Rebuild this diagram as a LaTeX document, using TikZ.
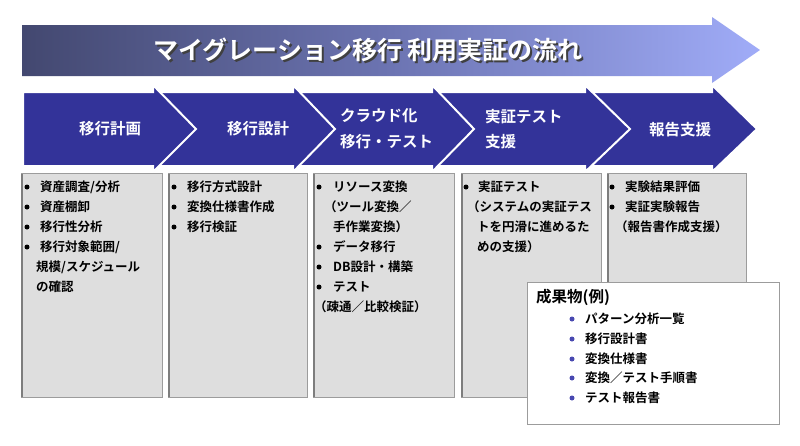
\documentclass[tikz,border=0pt]{standalone}
\usepackage{fontspec}
\setmainfont{Noto Sans CJK JP}[BoldFont={Noto Sans CJK JP Bold}]
\definecolor{chevblue}{HTML}{333399}
\definecolor{boxgray}{HTML}{DEDEDE}
\definecolor{boxedge}{HTML}{9C9C9C}
\definecolor{bulblue}{HTML}{4848B0}
\definecolor{tl}{HTML}{434870}
\definecolor{tm}{HTML}{6C74B2}
\definecolor{tr}{HTML}{A0ACF8}
\begin{document}
\begin{tikzpicture}[x=1pt,y=-1pt,
  chev/.style={fill=chevblue, draw=white, line width=2pt, line join=miter},
  gbox/.style={fill=boxgray, draw=boxedge, line width=1pt},
  wbox/.style={fill=white, draw=boxedge, line width=0.8pt},
  item/.style={anchor=west, font=\bfseries\fontsize{12.5}{14}\selectfont, inner sep=0pt},
  bul/.style={circle, fill=black, inner sep=0pt, minimum size=5pt},
  pbul/.style={circle, fill=bulblue, inner sep=0pt, minimum size=5pt},
  chevtxt/.style={text=white, font=\bfseries\fontsize{15.5}{17}\selectfont, inner sep=0pt},
  ttltxt/.style={font=\bfseries\fontsize{25}{28}\selectfont, inner sep=0pt}
]
\useasboundingbox (0,0) rectangle (800,445);
\fill[white] (0,0) rectangle (800,445);

% top arrow
\path[left color=tl, right color=tr, middle color=tm]
  (22,25) -- (712,25) -- (712,17) -- (760,50) -- (712,83) -- (712,76) -- (22,76) -- cycle;
\node[ttltxt, text=black!75] (ttlshadow) at (370,52) {マイグレーション移行 利用実証の流れ};
\node[ttltxt, text=white] (ttl) at (368,50) {マイグレーション移行 利用実証の流れ};

% chevrons (right to left)
\draw[chev] (582,92) -- (712,92) -- (712,85) -- (757,129) -- (712,172) -- (712,166) -- (582,166) -- cycle;
\draw[chev] (429,92) -- (585,92) -- (585,85) -- (630,129) -- (585,172) -- (585,166) -- (429,166) -- cycle;
\draw[chev] (290,92) -- (432,92) -- (432,85) -- (474,129) -- (432,172) -- (432,166) -- (290,166) -- cycle;
\draw[chev] (150,92) -- (293,92) -- (293,85) -- (335,129) -- (293,172) -- (293,166) -- (150,166) -- cycle;
\draw[chev] (23,92) -- (153,92) -- (153,85) -- (196,129) -- (153,172) -- (153,166) -- (23,166) -- cycle;

\node[chevtxt] (c1) at (110,129) {移行計画};
\node[chevtxt] (c2) at (258,129) {移行設計};
\node[chevtxt, anchor=west] (c3a) at (340,116) {クラウド化};
\node[chevtxt, anchor=west] (c3b) at (340,142) {移行・テスト};
\node[chevtxt, anchor=west] (c4a) at (485,117) {実証テスト};
\node[chevtxt, anchor=west] (c4b) at (485,142) {支援};
\node[chevtxt] (c5) at (680,130) {報告支援};

% gray boxes
\draw[gbox] (21,173) rectangle (162,397);
\draw[gbox] (168,173) rectangle (307,397);
\draw[gbox] (313,173) rectangle (454,397);
\draw[gbox] (461,173) rectangle (601,397);
\draw[gbox] (607,173) rectangle (746,397);
\foreach \xl in {21,168,313,461,607} {\draw[boxedge!80!black, line width=1.6pt] (\xl+0.8,173.5) -- (\xl+0.8,396.5);}

% box 1
\node[bul] (b1a) at (27,187) {};
\node[item] (t1a) at (40,187) {資産調査/分析};
\node[bul] (b1b) at (27,207) {};
\node[item] (t1b) at (40,207) {資産棚卸};
\node[bul] (b1c) at (27,227) {};
\node[item] (t1c) at (40,227) {移行性分析};
\node[bul] (b1d) at (27,247) {};
\node[item] (t1d) at (40,247) {移行対象範囲/};
\node[item] (t1e) at (36,267) {規模/スケジュール};
\node[item] (t1f) at (36,287) {の確認};

% box 2
\node[bul] (b2a) at (174,187) {};
\node[item] (t2a) at (187,187) {移行方式設計};
\node[bul] (b2b) at (174,207) {};
\node[item] (t2b) at (187,207) {変換仕様書作成};
\node[bul] (b2c) at (174,227) {};
\node[item] (t2c) at (187,227) {移行検証};

% box 3
\node[bul] (b3a) at (319,187) {};
\node[item] (t3a) at (333,187) {リソース変換};
\node[item] (t3b) at (324,207) {（ツール変換／};
\node[item] (t3c) at (333,227) {手作業変換）};
\node[bul] (b3d) at (319,247) {};
\node[item] (t3d) at (333,247) {データ移行};
\node[bul] (b3e) at (319,267) {};
\node[item] (t3e) at (333,267) {DB設計・構築};
\node[bul] (b3f) at (319,287) {};
\node[item] (t3f) at (333,287) {テスト};
\node[item] (t3g) at (314,307) {（疎通／比較検証）};

% box 4
\node[bul] (b4a) at (466,187) {};
\node[item] (t4a) at (478,187) {実証テスト};
\node[item] (t4b) at (467,207) {（システムの実証テス};
\node[item] (t4c) at (477,227) {トを円滑に進めるた};
\node[item] (t4d) at (477,247) {めの支援）};

% box 5
\node[bul] (b5a) at (612,187) {};
\node[item] (t5a) at (625,187) {実験結果評価};
\node[bul] (b5b) at (612,207) {};
\node[item] (t5b) at (625,207) {実証実験報告};
\node[item] (t5c) at (615,227) {（報告書作成支援）};

% deliverables box
\draw[wbox] (527,282) rectangle (779,424);
\node[item, font=\bfseries\fontsize{15.5}{17}\selectfont] (dh) at (536,297) {成果物(例)};
\node[pbul] (d1b) at (572,319) {};
\node[item] (d1) at (585,319) {パターン分析一覧};
\node[pbul] (d2b) at (572,339) {};
\node[item] (d2) at (585,339) {移行設計書};
\node[pbul] (d3b) at (572,359) {};
\node[item] (d3) at (585,359) {変換仕様書};
\node[pbul] (d4b) at (572,378) {};
\node[item] (d4) at (585,378) {変換／テスト手順書};
\node[pbul] (d5b) at (572,398) {};
\node[item] (d5) at (585,398) {テスト報告書};
\end{tikzpicture}
\end{document}
